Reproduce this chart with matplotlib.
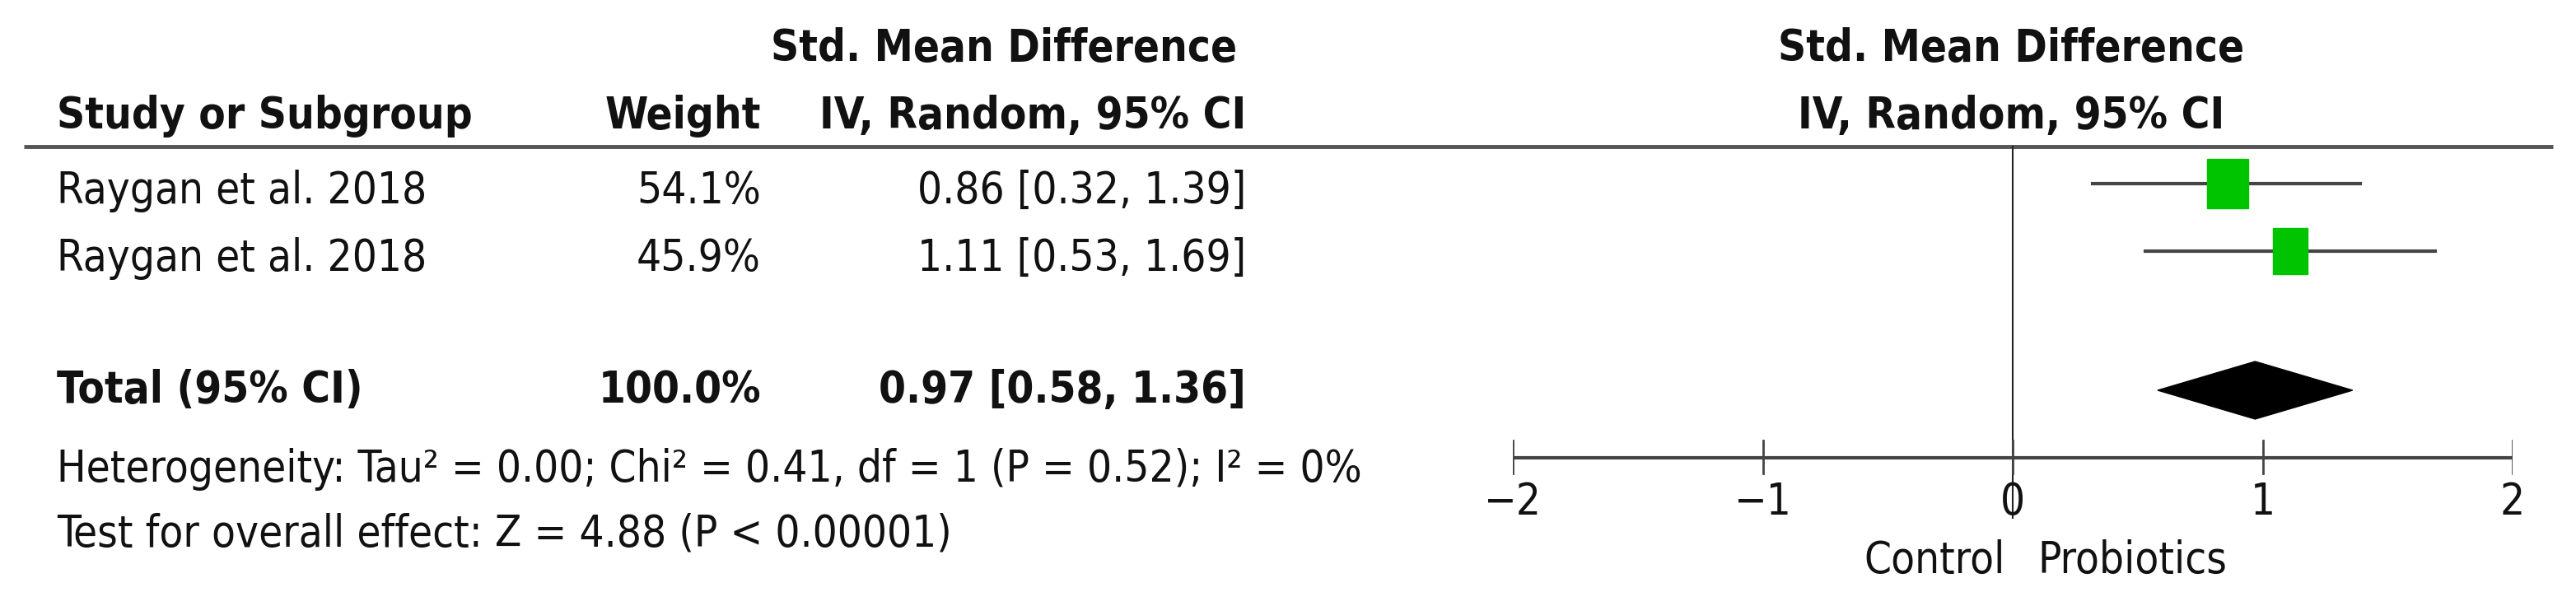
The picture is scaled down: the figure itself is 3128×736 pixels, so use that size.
import matplotlib
matplotlib.use("Agg")
import matplotlib.pyplot as plt
from matplotlib.patches import Rectangle, Polygon

studies = ["Raygan et al. 2018", "Raygan et al. 2018"]
weights = [54.1, 45.9]
smd = [0.86, 1.11]
ci_low = [0.32, 0.53]
ci_high = [1.39, 1.69]
total_w = "100.0%"
total_smd, total_low, total_high = 0.97, 0.58, 1.36
ticks = [-2, -1, 0, 1, 2]
heterogeneity = "Heterogeneity: Tau² = 0.00; Chi² = 0.41, df = 1 (P = 0.52); I² = 0%"
overall = "Test for overall effect: Z = 4.88 (P < 0.00001)"

W, H = 3128, 736
FONT = ["DejaVu Sans"]
FS = 38
STRETCH = "condensed"

fig = plt.figure(figsize=(W / 100, H / 100), dpi=100)
ax = fig.add_axes([0, 0, 1, 1])
ax.set_xlim(0, W)
ax.set_ylim(H, 0)
ax.axis("off")

def txt(axx, x, y, s, ha="left", bold=False):
    axx.text(x, y, s, ha=ha, va="center", fontsize=FS, family=FONT, fontstretch=STRETCH,
             fontweight="bold" if bold else "normal", color="#111111")

# headers
txt(ax, 1219, 59, "Std. Mean Difference", ha="center", bold=True)
txt(ax, 69, 141, "Study or Subgroup", bold=True)
txt(ax, 924, 141, "Weight", ha="right", bold=True)
txt(ax, 1513, 141, "IV, Random, 95% CI", ha="right", bold=True)
txt(ax, 2442, 59, "Std. Mean Difference", ha="center", bold=True)
txt(ax, 2442, 141, "IV, Random, 95% CI", ha="center", bold=True)
ax.plot([29, 3100], [178, 178], color="#555555", lw=3.5, solid_capstyle="butt")

rows_y = [232, 314]
for i, y in enumerate(rows_y):
    txt(ax, 69, y, studies[i])
    txt(ax, 924, y, f"{weights[i]:.1f}%", ha="right")
    txt(ax, 1513, y, f"{smd[i]:.2f} [{ci_low[i]:.2f}, {ci_high[i]:.2f}]", ha="right")
txt(ax, 69, 474, "Total (95% CI)", bold=True)
txt(ax, 924, 474, total_w, ha="right", bold=True)
txt(ax, 1513, 474, f"{total_smd:.2f} [{total_low:.2f}, {total_high:.2f}]", ha="right", bold=True)
txt(ax, 69, 570, heterogeneity)
txt(ax, 69, 648, overall)

# forest panel, x in effect units, y in pixels
x0, x1 = 1837, 3051
fx = fig.add_axes([x0 / W, 0, (x1 - x0) / W, 1])
fx.set_xlim(-2, 2)
fx.set_ylim(H, 0)
fx.axis("off")
fx.patch.set_alpha(0)

fx.plot([0, 0], [178, 629], color="#222222", lw=1.5)
for i, y in enumerate([223, 305]):
    fx.plot([ci_low[i], ci_high[i]], [y, y], color="#444444", lw=3)
    w = 0.165 * weights[i] / weights[0]
    h = 60 * (weights[i] / weights[0]) ** 0.5
    fx.add_patch(Rectangle((smd[i] - w / 2, y - h / 2), w, h, color="#00c400", zorder=3))
fx.add_patch(Polygon([(total_low, 474), (total_smd, 439), (total_high, 474), (total_smd, 509)],
                     closed=True, color="black", zorder=3))
fx.plot([-2, 2], [556, 556], color="#444444", lw=3)
for t in ticks:
    fx.plot([t, t], [535, 575], color="#444444", lw=2)
    txt(fx, t, 610, str(t).replace("-", "\u2212"), ha="center")
txt(fx, -0.03, 681, "Control", ha="right")
txt(fx, 0.1, 681, "Probiotics")

fig.savefig("out.png", dpi=100)
